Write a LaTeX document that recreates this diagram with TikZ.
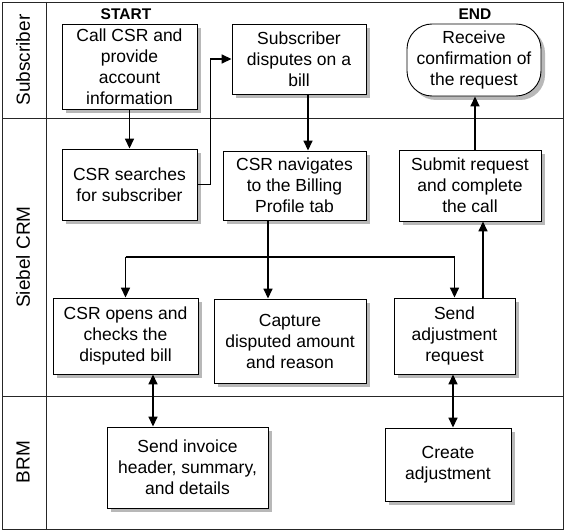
\documentclass[tikz,border=0pt]{standalone}
\usepackage{fontspec}
\setmainfont{Liberation Sans}
\usetikzlibrary{arrows.meta,shadows}
\begin{document}
\begin{tikzpicture}[x=1pt,y=-1pt,
  box/.style={draw=black,line width=0.9pt,fill=white,align=center,inner sep=2pt,
    font=\fontsize{17.5}{21}\selectfont,
    drop shadow={shadow xshift=4pt,shadow yshift=-4pt,fill=black!28,opacity=1}},
  endbox/.style={box,rounded corners=25pt},
  lane/.style={draw=black!85,line width=0.8pt},
  lanelabel/.style={rotate=90,font=\fontsize{19}{22}\selectfont},
  tag/.style={font=\bfseries\fontsize{15.5}{18}\selectfont},
  flow/.style={line width=1.6pt,-{Triangle[length=10pt,width=9pt]}},
  flowline/.style={line width=1.6pt},
  biflow/.style={line width=1.6pt,{Triangle[length=10pt,width=9pt]}-{Triangle[length=10pt,width=9pt]}}]
\useasboundingbox (0,0) rectangle (566,532);
\fill[white] (0,0) rectangle (566,532);
% lanes
\draw[lane] (2,2) rectangle (563,529);
\draw[lane] (46,2) -- (46,529);
\draw[lane] (2,118) -- (563,118);
\draw[lane] (2,396) -- (563,396);
\node[lanelabel] (lsub) at (23,60) {Subscriber};
\node[lanelabel] (lcrm) at (23,257) {Siebel CRM};
\node[lanelabel] (lbrm) at (23,462) {BRM};
% tags
\node[tag] (start) at (126,14) {START};
\node[tag] (end) at (475,14) {END};
% boxes
\node[box,minimum width=135,minimum height=85] (b1) at (129.5,66.5) {Call CSR and\\provide\\account\\information};
\node[box,minimum width=134,minimum height=70] (b2) at (299,59) {Subscriber\\disputes on a\\bill};
\node[endbox,minimum width=134,minimum height=72] (b3) at (474,60) {Receive\\confirmation of\\the request};
\node[box,minimum width=135,minimum height=71] (b4) at (129.5,184.5) {CSR searches\\for subscriber};
\node[box,minimum width=143,minimum height=69] (b5) at (294.5,185.5) {CSR navigates\\to the Billing\\Profile tab};
\node[box,minimum width=142,minimum height=71] (b6) at (470,185.5) {Submit request\\and complete\\the call};
\node[box,minimum width=145,minimum height=76] (b7) at (125.5,336) {CSR opens and\\checks the\\disputed bill};
\node[box,minimum width=152,minimum height=84] (b8) at (290,341) {Capture\\disputed amount\\and reason};
\node[box,minimum width=121,minimum height=76] (b9) at (454.5,336) {Send\\adjustment\\request};
\node[box,minimum width=161,minimum height=81] (b10) at (187.5,467.5) {Send invoice\\header, summary,\\and details};
\node[box,minimum width=126,minimum height=73] (b11) at (448,464.5) {Create\\adjustment};
% connectors
\draw[flow] (b1.south) -- (b4.north);
\draw[flow] (b4.east) -- ++(13,0) |- (b2.west);
\draw[flow] ([xshift=9]b2.south) -- ([xshift=9]b2.south |- b5.north);
\coordinate (split) at ([xshift=-26.5]b5.south |- 0,257);
\draw[flowline] ([xshift=-26.5]b5.south) -- (split);
\draw[flowline] (b7.north |- split) -- (b9.north |- split);
\draw[flow] (b7.north |- split) -- (b7.north);
\draw[flow] (split) -- (split |- b8.north);
\draw[flow] (b9.north |- split) -- (b9.north);
\draw[flow] ([xshift=28.5]b9.north) -- ([xshift=28.5]b9.north |- b6.south);
\draw[flow] ([xshift=5]b6.north) -- ([xshift=5]b6.north |- b3.south);
\draw[biflow] ([xshift=27.5]b7.south) -- ([xshift=27.5]b7.south |- b10.north);
\draw[biflow] ([xshift=-1.5]b9.south) -- ([xshift=-1.5]b9.south |- b11.north);
\end{tikzpicture}
\end{document}
